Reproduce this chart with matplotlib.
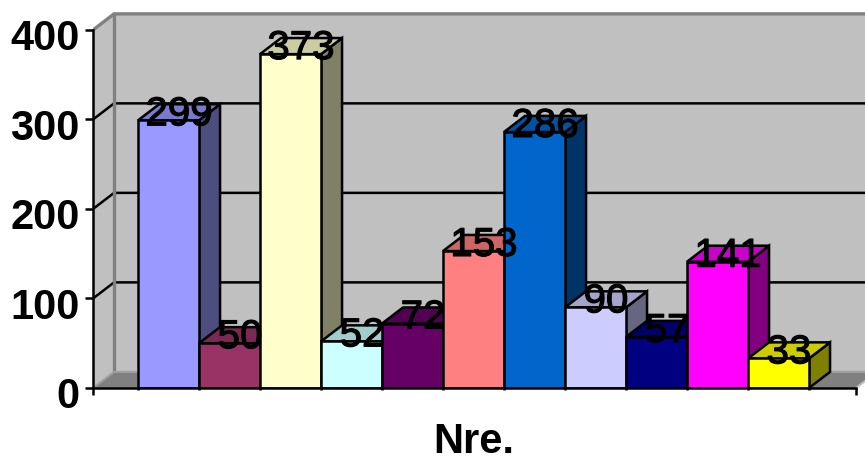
import matplotlib
matplotlib.use('Agg')
import matplotlib.pyplot as plt
import matplotlib.patheffects as pe
from matplotlib.patches import Polygon
from matplotlib.transforms import ScaledTranslation

plt.rcParams['font.family'] = ['Liberation Sans', 'DejaVu Sans']

# Valores de cada barra
valores = [299, 50, 373, 52, 72, 153, 286, 90, 57, 141, 33]
colores = ['#9999FF', '#993366', '#FFFFCC', '#CCFFFF', '#660066', '#FF8080',
           '#0066CC', '#CCCCFF', '#000080', '#FF00FF', '#FFFF00']
ticks_y = [0, 100, 200, 300, 400]
titulo_x = 'Nre.'

# Profundidad del efecto 3D en unidades de datos
dx = 0.345
dy = 18


def oscurecer(color, factor):
    r, g, b = matplotlib.colors.to_rgb(color)
    return (r * factor, g * factor, b * factor)


fig = plt.figure(figsize=(8.65, 4.57), dpi=100)
ax = fig.add_axes([93 / 865, 69 / 457, 772 / 865, 388 / 457])
x_min = -45 / 61
ax.set_xlim(x_min, x_min + 772 / 61)
ax.set_ylim(0, 433.5)
ax.patch.set_visible(False)

x_der = x_min + 763 / 61
lw = 1.8

# Paredes y suelo
ax.add_patch(Polygon([(x_min + dx, dy), (x_der + dx, dy), (x_der + dx, 400 + dy), (x_min + dx, 400 + dy)],
                     fc='#C0C0C0', ec='none', zorder=1))
ax.add_patch(Polygon([(x_min, 0), (x_min + dx, dy), (x_min + dx, 400 + dy), (x_min, 400)],
                     fc='#C0C0C0', ec='none', zorder=1))
ax.add_patch(Polygon([(x_min, 0), (x_min + dx, dy), (x_der + dx, dy), (x_der, 0)],
                     fc='#808080', ec='none', zorder=1))

# Lineas de la cuadricula sobre las paredes
for v in ticks_y[1:4]:
    ax.plot([x_min, x_min + dx, x_der + dx], [v, v + dy, v + dy], color='black', lw=lw, zorder=2,
            solid_joinstyle='miter')
ax.plot([x_min, x_min + dx, x_der + dx], [400, 400 + dy, 400 + dy], color='#808080', lw=2.4, zorder=2)
ax.plot([x_min + dx, x_min + dx], [dy, 400 + dy], color='#808080', lw=2.4, zorder=2)
ax.plot([x_min, x_min + dx, x_der + dx], [0, dy, dy], color='#A0A0A0', lw=1.5, zorder=2)
ax.plot([x_der, x_der + dx], [0, dy], color='#C0C0C0', lw=1.5, zorder=2)

# Barras con cara frontal, lateral y superior
for i, (v, c) in enumerate(zip(valores, colores)):
    z = 3 + i * 0.1
    ax.bar(i, v, width=1, align='edge', color=c, edgecolor='black', linewidth=lw, zorder=z + 0.02)
    ax.add_patch(Polygon([(i + 1, 0), (i + 1 + dx, dy), (i + 1 + dx, v + dy), (i + 1, v)],
                         fc=oscurecer(c, 0.5), ec='black', lw=lw, zorder=z))
    ax.add_patch(Polygon([(i, v), (i + dx, v + dy), (i + 1 + dx, v + dy), (i + 1, v)],
                         fc=oscurecer(c, 0.8), ec='black', lw=lw, zorder=z + 0.01))

# Etiquetas de valor encima de todo
trazo = [pe.withStroke(linewidth=0.8, foreground='black')]
for i, v in enumerate(valores):
    ax.text(i + 0.5 + dx / 2, v - 5.5, str(v), ha='center', va='baseline', fontsize=29,
            color='black', zorder=10, path_effects=trazo)

# Ejes
for lado in ['top', 'right']:
    ax.spines[lado].set_visible(False)
ax.spines['left'].set_bounds(0, 400)
ax.spines['bottom'].set_bounds(x_min, x_der)
ax.spines['left'].set_linewidth(lw)
ax.spines['bottom'].set_linewidth(lw)
ax.spines['left'].set_zorder(9)
ax.spines['bottom'].set_zorder(9)

ax.set_yticks(ticks_y)
ax.set_xticks([x_min, x_der])
ax.set_xticks(range(len(valores) + 1), minor=True)
ax.set_xticklabels([])
ax.tick_params(axis='y', length=5.8, width=lw, pad=4, labelsize=30)
ax.tick_params(axis='x', which='major', length=5, width=lw)
ax.tick_params(axis='x', which='minor', length=1.5, width=lw)
desplazar = ScaledTranslation(0, -5 / 100, fig.dpi_scale_trans)
for t in ax.get_yticklabels():
    t.set_fontweight('bold')
    t.set_transform(t.get_transform() + desplazar)

ax.set_xlabel(titulo_x, fontsize=30, fontweight='bold', va='baseline')
ax.xaxis.set_label_coords((474 - 93) / 772, (388 - 453) / 388)

fig.savefig('out.png', dpi=100)
